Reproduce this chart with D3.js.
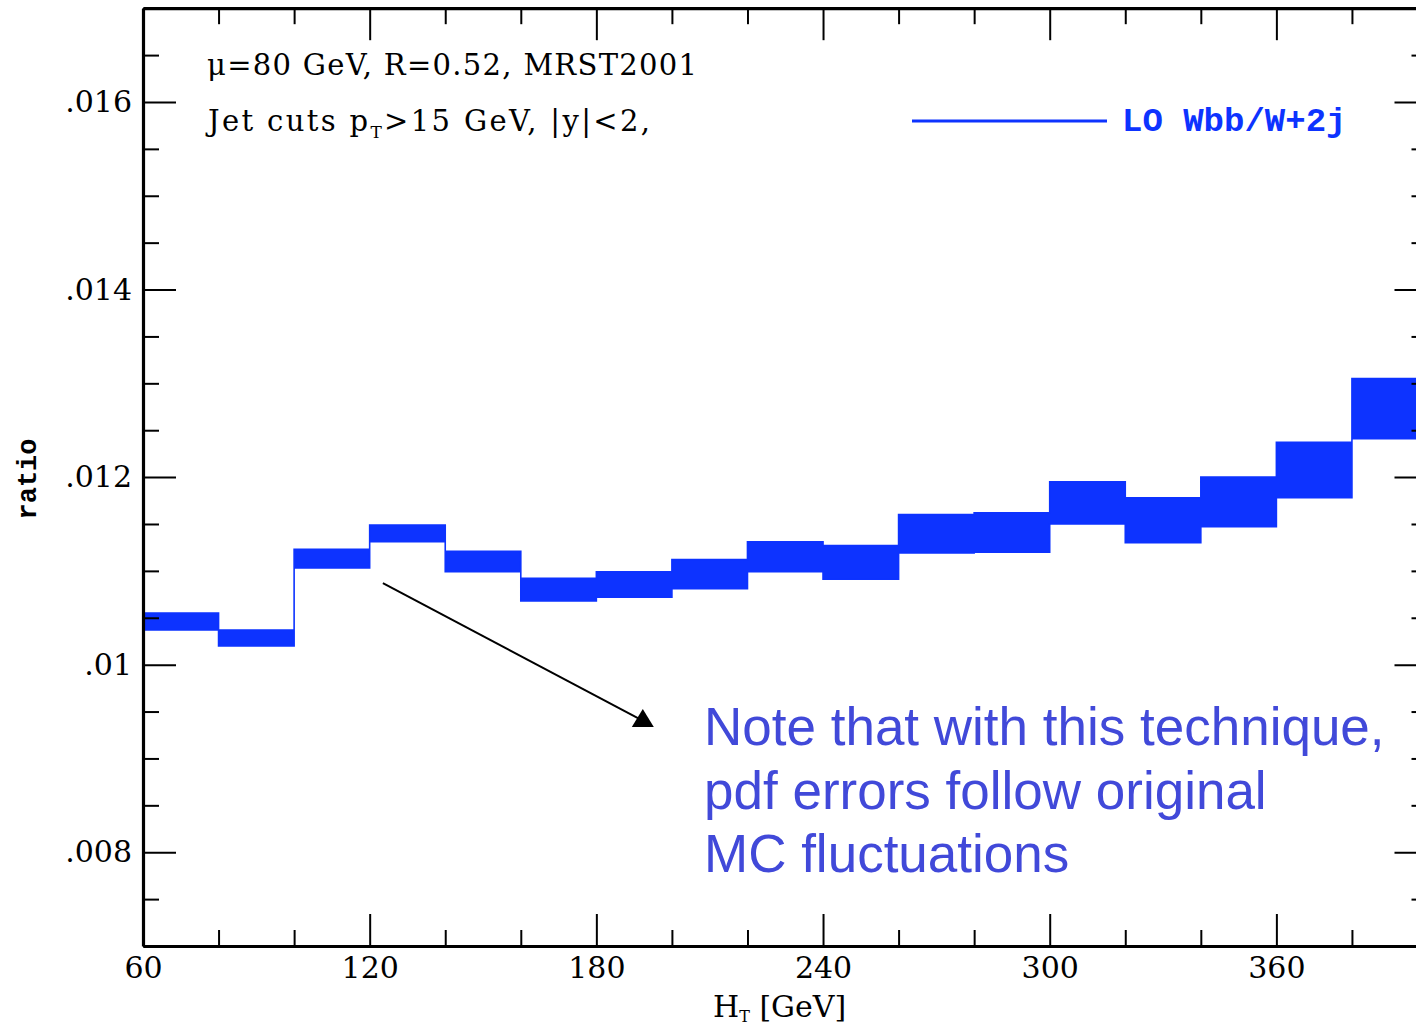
<!DOCTYPE html>
<html>
<head>
<meta charset="utf-8">
<script src="https://cdn.jsdelivr.net/npm/d3@7"></script>
<style>
  html, body { margin: 0; padding: 0; background: #fff; }
  svg { display: block; }
</style>
</head>
<body>
<svg id="chart" width="1416" height="1029"></svg>
<script>
// H_T bin edges (GeV) and the pdf-uncertainty band of the LO Wbb/W+2j ratio
const htEdges = [60, 80, 100, 120, 140, 160, 180, 200, 220, 240, 260, 280, 300, 320, 340, 360, 380, 400];
const ratioUpper = [0.01055, 0.01037, 0.01123, 0.01149, 0.01121, 0.01092, 0.01099, 0.01112, 0.01131,
                    0.01127, 0.01160, 0.01162, 0.01195, 0.01178, 0.01200, 0.01237, 0.01305];
const ratioLower = [0.01037, 0.01020, 0.01103, 0.01131, 0.01099, 0.01068, 0.01072, 0.01081, 0.01099,
                    0.01091, 0.01119, 0.01120, 0.01150, 0.01130, 0.01147, 0.01178, 0.01241];

// axis ticks
const xMajorTicks = [60, 120, 180, 240, 300, 360];
const xTickLabels = ["60", "120", "180", "240", "300", "360"];
const xMinorTicks = [80, 100, 140, 160, 200, 220, 260, 280, 320, 340, 380, 400];
const yMajorTicks = [0.008, 0.010, 0.012, 0.014, 0.016];
const yTickLabels = [".008", ".01", ".012", ".014", ".016"];
const yMinorTicks = [0.007, 0.0075, 0.0085, 0.009, 0.0095, 0.0105, 0.011, 0.0115,
                     0.0125, 0.013, 0.0135, 0.0145, 0.015, 0.0155, 0.0165, 0.017];

const seriesName = "LO Wbb/W+2j";
const infoLine1 = "\u03bc=80 GeV, R=0.52, MRST2001";
const noteLines = ["Note that with this technique,", "pdf errors follow original", "MC fluctuations"];
// arrow tail and head in data coordinates (H_T, ratio)
const arrowFrom = [123.5, 0.01087];
const arrowTo = [191.5, 0.00942];

const BLUE = "#0d33ff";
const NOTE = "#4149d9";
const serif = "'DejaVu Serif', serif";
const mono = "'Liberation Mono', 'DejaVu Sans Mono', monospace";

const svg = d3.select("#chart");
svg.append("rect").attr("width", 1416).attr("height", 1029).attr("fill", "#fff");

const x = d3.scaleLinear().domain([60, 400]).range([143, 1427.5]);
const y = d3.scaleLinear().domain([0.007, 0.017]).range([946, 8.2]);

// step band: each bin contributes its two edges
const pts = [];
ratioUpper.forEach((u, i) => {
  pts.push({ ht: htEdges[i], lo: ratioLower[i], hi: u });
  pts.push({ ht: htEdges[i + 1], lo: ratioLower[i], hi: u });
});
const band = d3.area().x(d => x(d.ht)).y0(d => y(d.lo)).y1(d => y(d.hi));

const plot = svg.append("g");
plot.append("path").datum(pts)
  .attr("d", band)
  .attr("fill", BLUE)
  .attr("stroke", BLUE)
  .attr("stroke-width", 1.6)
  .attr("stroke-linejoin", "miter");

// frame with ticks on all four sides
function styleAxis(g, w) {
  g.selectAll(".domain").attr("stroke", "#000").attr("stroke-width", 3.2);
  g.selectAll(".tick line").attr("stroke", "#000").attr("stroke-width", w);
}
const yLabel = d => yTickLabels[yMajorTicks.indexOf(d)];
const xLabel = d => xTickLabels[xMajorTicks.indexOf(d)];

const gB = svg.append("g").attr("transform", "translate(0,946)")
  .call(d3.axisBottom(x).tickValues(xMajorTicks).tickSize(-32).tickSizeOuter(0).tickPadding(11).tickFormat(xLabel));
gB.append("g").call(d3.axisBottom(x).tickValues(xMinorTicks).tickSize(-16).tickSizeOuter(0).tickFormat(""))
  .call(g => g.select(".domain").remove());
styleAxis(gB, 2);

const gT = svg.append("g").attr("transform", "translate(0,8.2)")
  .call(d3.axisTop(x).tickValues(xMajorTicks).tickSize(-32).tickSizeOuter(0).tickFormat(""));
gT.append("g").call(d3.axisTop(x).tickValues(xMinorTicks).tickSize(-16).tickSizeOuter(0).tickFormat(""))
  .call(g => g.select(".domain").remove());
styleAxis(gT, 2);

const gL = svg.append("g").attr("transform", "translate(143,0)")
  .call(d3.axisLeft(y).tickValues(yMajorTicks).tickSize(-33).tickSizeOuter(0).tickPadding(11).tickFormat(yLabel));
gL.append("g").call(d3.axisLeft(y).tickValues(yMinorTicks).tickSize(-16).tickSizeOuter(0).tickFormat(""))
  .call(g => g.select(".domain").remove());
styleAxis(gL, 2);

const gR = svg.append("g").attr("transform", "translate(1427.5,0)")
  .call(d3.axisRight(y).tickValues(yMajorTicks).tickSize(-33).tickSizeOuter(0).tickFormat(""));
gR.append("g").call(d3.axisRight(y).tickValues(yMinorTicks).tickSize(-16).tickSizeOuter(0).tickFormat(""))
  .call(g => g.select(".domain").remove());
styleAxis(gR, 2);

svg.selectAll(".tick text")
  .attr("font-family", serif).attr("font-size", 30).attr("fill", "#000");

// axis titles
svg.append("text")
  .attr("transform", "translate(36,479) rotate(-90)")
  .attr("text-anchor", "middle")
  .attr("font-family", mono).attr("font-weight", "bold").attr("font-size", 27)
  .text("ratio");

const xt = svg.append("text")
  .attr("x", 713).attr("y", 1017)
  .attr("font-family", serif).attr("font-size", 30);
xt.append("tspan").text("H");
xt.append("tspan").attr("font-size", 16).attr("dy", 5).text("T");
xt.append("tspan").attr("dy", -5).text(" [GeV]");

// run conditions
svg.append("text")
  .attr("x", 207).attr("y", 75)
  .attr("font-family", serif).attr("font-size", 29)
  .attr("textLength", 490).attr("lengthAdjust", "spacing")
  .text(infoLine1);

const l2 = svg.append("text")
  .attr("x", 208).attr("y", 131)
  .attr("font-family", serif).attr("font-size", 29)
  .attr("textLength", 442).attr("lengthAdjust", "spacing");
l2.append("tspan").text("Jet cuts p");
l2.append("tspan").attr("font-size", 17).attr("dy", 7).text("T");
l2.append("tspan").attr("dy", -7).text(">15 GeV, |y|<2,");

// legend
svg.append("line")
  .attr("x1", 912).attr("x2", 1107).attr("y1", 121).attr("y2", 121)
  .attr("stroke", BLUE).attr("stroke-width", 3);
svg.append("text")
  .attr("x", 1122).attr("y", 131)
  .attr("font-family", mono).attr("font-weight", "bold").attr("font-size", 34)
  .attr("fill", BLUE)
  .text(seriesName);

// annotation arrow
const ax0 = x(arrowFrom[0]), ay0 = y(arrowFrom[1]);
const ax1 = x(arrowTo[0]), ay1 = y(arrowTo[1]);
svg.append("line")
  .attr("x1", ax0).attr("y1", ay0).attr("x2", ax1).attr("y2", ay1)
  .attr("stroke", "#000").attr("stroke-width", 2);
svg.append("path")
  .attr("d", `M${ax1 - 8},${ay1 + 8} L${ax1 + 14},${ay1 + 8} L${ax1 + 3},${ay1 - 10} Z`)
  .attr("fill", "#000");

// note text
const note = svg.append("text")
  .attr("font-family", "'Liberation Sans', Arial, sans-serif")
  .attr("font-size", 53).attr("fill", NOTE);
noteLines.forEach((t, i) => {
  note.append("tspan").attr("x", 704).attr("y", 745 + i * 63.5).text(t);
});
</script>
</body>
</html>
